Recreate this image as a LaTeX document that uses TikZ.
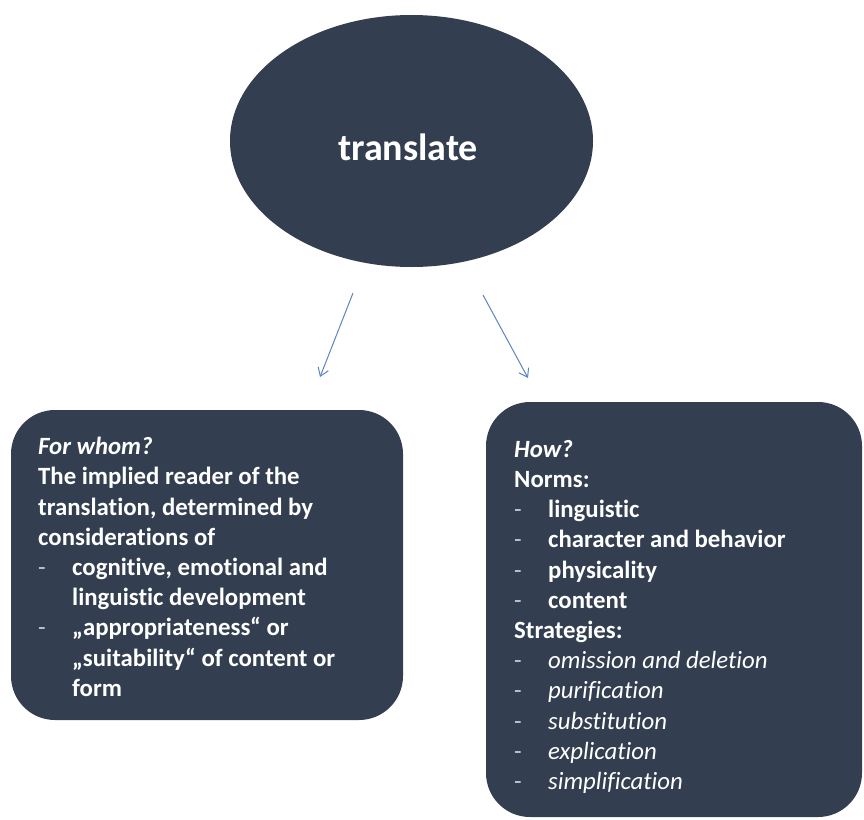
\documentclass[tikz,border=0pt]{standalone}
\usepackage{fontspec}
\setmainfont{Carlito}[Ligatures=NoCommon,RawFeature={-liga;-clig;-calt}]
\usepackage{tikz}
\usetikzlibrary{shapes.geometric,arrows.meta}
\definecolor{navy}{HTML}{333F50}
\definecolor{linkblue}{HTML}{5B84C4}
\definecolor{dashgrey}{HTML}{C8CCD2}
\newcommand{\bul}[1]{\makebox[34pt][l]{\mdseries\upshape\color{dashgrey}-}#1}
\newcommand{\ind}{\hspace*{34pt}}
\tikzset{
	bubble/.style={ellipse,fill=navy,minimum width=363pt,minimum height=252pt,inner sep=0pt},
	word/.style={text=white,inner sep=0pt,font=\bfseries\fontsize{38}{44}\selectfont},
	card/.style 2 args={rectangle,rounded corners=44pt,fill=navy,minimum width=#1,minimum height=#2,inner sep=0pt},
	cardtext/.style={text=white,align=left,anchor=north west,inner sep=0pt,font=\bfseries\fontsize{24.8}{30.2}\selectfont},
	link/.style={draw=linkblue,line width=1pt,-{Straight Barb[length=8pt,width=11pt]}}
}

\begin{document}
\begin{tikzpicture}[x=1pt,y=-1pt]
	\useasboundingbox (0,0) rectangle (864,819);

	\node [bubble] (translate) at (411.5,141) {};
	\node [word] (title) at (408,147) {translate};

	\node [card={392pt}{310pt}] (whom) at (207,565) {};
	\node [card={376pt}{415pt}] (how) at (674,609.5) {};

	\coordinate (l1) at (353,293);
	\coordinate (l2) at (320,377);
	\coordinate (r1) at (483,295);
	\coordinate (r2) at (528,378);
	\draw [link] (l1) -- (l2);
	\draw [link] (r1) -- (r2);

	\node [cardtext] (whomtext) at (38,437) {%
		\textit{For whom?}\\
		The implied reader of the\\
		translation, determined by\\
		considerations of\\
		\bul{cognitive, emotional and}\\
		\ind linguistic development\\
		\bul{„appropriateness“ or}\\
		\ind „suitability“ of content or\\
		\ind form};

	\node [cardtext] (howtext) at (514,440) {%
		\textit{How?}\\
		Norms:\\
		\bul{linguistic}\\
		\bul{character and behavior}\\
		\bul{physicality}\\
		\bul{content}\\
		Strategies:\\
		\bul{\mdseries\itshape omission and deletion}\\
		\bul{\mdseries\itshape purification}\\
		\bul{\mdseries\itshape substitution}\\
		\bul{\mdseries\itshape explication}\\
		\bul{\mdseries\itshape simplification}};
\end{tikzpicture}
\end{document}
